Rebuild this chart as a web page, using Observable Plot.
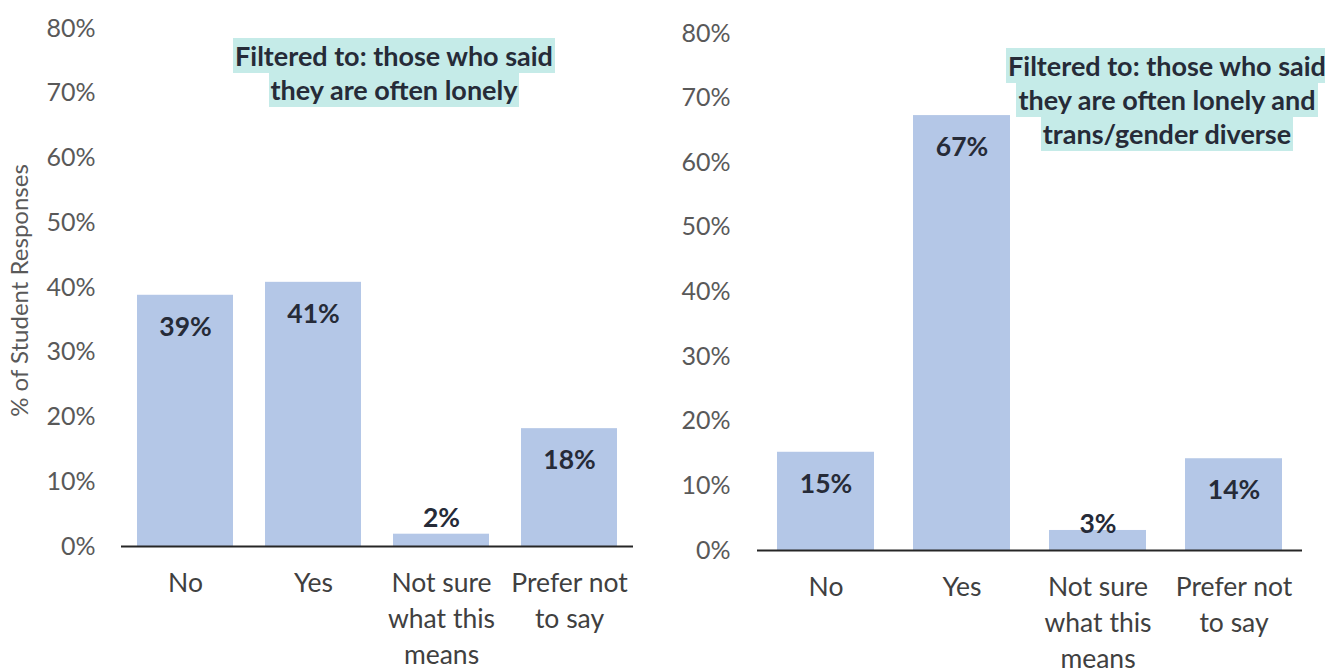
<!DOCTYPE html>
<html>
<head>
<meta charset="utf-8">
<script src="https://cdn.jsdelivr.net/npm/d3@7"></script>
<script src="https://cdn.jsdelivr.net/npm/@observablehq/plot@0.6"></script>
<style>
  html, body { margin: 0; padding: 0; background: #fff; }
  #wrap { position: relative; width: 1325px; height: 668px; overflow: hidden; font-family: Lato, "Open Sans", sans-serif; }
  .panel { position: absolute; top: 0; }
  .note { position: absolute; text-align: center; font-weight: bold; font-size: 27px; color: #262b38; line-height: 34px; }
  .note span { background: #c5ebe8; padding: 1px 2px; -webkit-box-decoration-break: clone; box-decoration-break: clone; }
</style>
</head>
<body>
<div id="wrap">
  <div class="panel" id="left" style="left:0px"></div>
  <div class="panel" id="right" style="left:640px"></div>
</div>
<script>
const categories = ["No", "Yes", "Not sure what this means", "Prefer not to say"];
const tickLabels = ["No", "Yes", "Not sure\nwhat this\nmeans", "Prefer not\nto say"];
const lonelyValues = [38.8, 40.8, 1.9, 18.2];
const transValues = [15.2, 67.3, 3.1, 14.2];
const yTicks = [0, 10, 20, 30, 40, 50, 60, 70, 80];
const yTitle = "% of Student Responses";
const noteLeft = ["Filtered to: those who said", "they are often lonely"];
const noteRight = ["Filtered to: those who said", "they are often lonely and", "trans/gender diverse"];

const barColor = "#b4c7e7";
const labelColor = "#262b38";
const tickColor = "#595959";
const axisColor = "#262626";

function panel(values, cfg) {
  const data = categories.map((c, i) => ({cat: c, value: values[i], tick: tickLabels[i]}));
  const tickMap = new Map(data.map(d => [d.cat, d.tick]));
  const marks = [
    Plot.barY(data, {x: "cat", y: "value", fill: barColor}),
    Plot.axisY({ticks: yTicks, tickFormat: d => d + "%", tickSize: 0, tickPadding: cfg.tickPad,
      fontSize: 25, color: tickColor, label: null}),
    Plot.axisX({tickSize: 0, tickPadding: 20, tickFormat: d => tickMap.get(d), fontSize: 26.5,
      color: "#404040", lineHeight: 1.36, label: null}),
    Plot.ruleX([0], {frameAnchor: "left", stroke: axisColor, strokeWidth: 2}),
    Plot.ruleY([0], {stroke: axisColor, strokeWidth: 2}),
    Plot.text(data.filter(d => d.value > 8), {x: "cat", y: "value", text: d => Math.round(d.value) + "%",
      dy: 32, fontSize: 26.5, fontWeight: "bold", fill: labelColor}),
    Plot.text(data.filter(d => d.value <= 8), {x: "cat", y: "value", text: d => Math.round(d.value) + "%",
      dy: cfg.smallDy, fontSize: 26.5, fontWeight: "bold", fill: labelColor})
  ];
  if (cfg.yTitle) {
    marks.push(Plot.text([yTitle], {frameAnchor: "left", rotate: -90, dx: -101, dy: 3,
      textAnchor: "middle", fontSize: 24, fill: tickColor}));
  }
  return Plot.plot({
    width: cfg.width, height: 668,
    marginLeft: cfg.ml, marginRight: cfg.mr, marginTop: cfg.mt, marginBottom: cfg.mb,
    style: {fontFamily: "Lato, 'Open Sans', sans-serif", background: "transparent", overflow: "visible"},
    x: {domain: categories, paddingInner: cfg.padIn, paddingOuter: cfg.padOut},
    y: {domain: [0, 80]},
    marks
  });
}

document.getElementById("left").appendChild(panel(lonelyValues, {
  width: 660, ml: 121, mr: 27, mt: 28, mb: 122, padIn: 0.25, padOut: 0.125,
  tickPad: 26, yTitle: true, smallDy: -16
}));
document.getElementById("right").appendChild(panel(transValues, {
  width: 685, ml: 117, mr: 23, mt: 33, mb: 118, padIn: 0.29, padOut: 0.145,
  tickPad: 27, yTitle: false, smallDy: -6
}));

function addNote(lines, cx, top) {
  const div = document.createElement("div");
  div.className = "note";
  div.style.left = (cx - 220) + "px";
  div.style.width = "440px";
  div.style.top = top + "px";
  div.innerHTML = lines.map(l => "<span>" + l + "</span>").join("<br>");
  document.getElementById("wrap").appendChild(div);
}
addNote(noteLeft, 394, 39);
addNote(noteRight, 1167, 49);
</script>
</body>
</html>
